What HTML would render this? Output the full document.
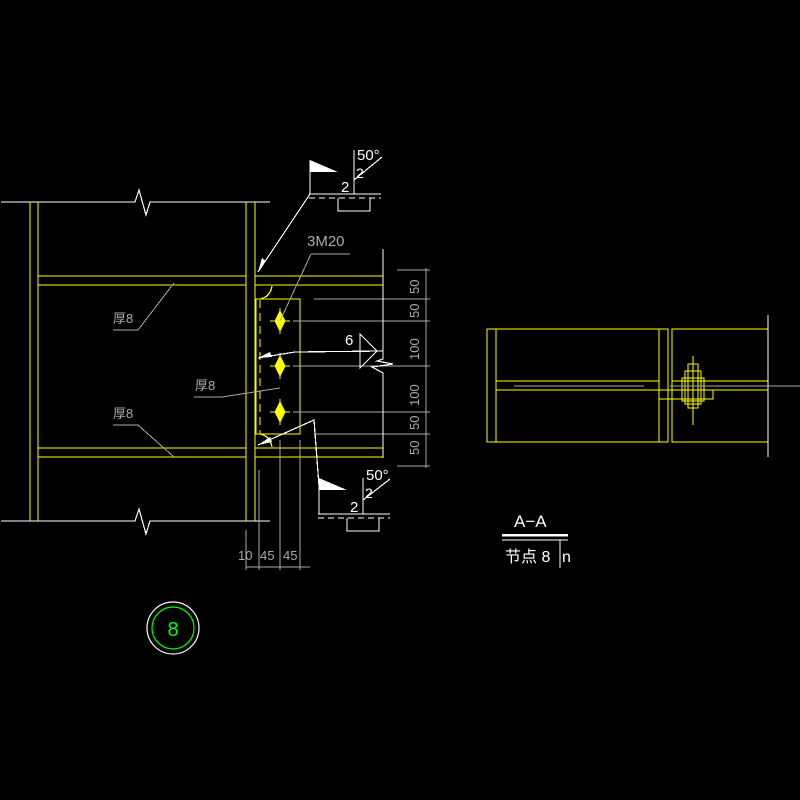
<!DOCTYPE html>
<html><head><style>body{margin:0;background:#000}svg{display:block}text{font-family:"Liberation Sans","Noto Sans CJK SC",sans-serif}</style></head>
<body>
<svg width="800" height="800" viewBox="0 0 800 800" xmlns="http://www.w3.org/2000/svg" shape-rendering="crispEdges">
<rect width="800" height="800" fill="#000"/>
<g stroke="#fff" stroke-width="1.2" fill="none">
<polyline points="1,202 135,202 139,190 146,215 150,202 270,202"/>
<polyline points="1,521 135,521 139,509 146,534 150,521 270,521"/>
</g>
<g stroke="#ff0" stroke-width="1.3" fill="none">
<line x1="30" y1="202" x2="30" y2="521"/><line x1="38" y1="202" x2="38" y2="521"/>
<line x1="246" y1="202" x2="246" y2="521"/><line x1="255" y1="202" x2="255" y2="521"/>
<line x1="38" y1="276" x2="246" y2="276"/><line x1="38" y1="285" x2="246" y2="285"/>
<line x1="38" y1="448" x2="246" y2="448"/><line x1="38" y1="457" x2="246" y2="457"/>
<line x1="255" y1="276" x2="383" y2="276"/><line x1="255" y1="285" x2="383" y2="285"/>
<line x1="255" y1="448" x2="383" y2="448"/><line x1="255" y1="457" x2="383" y2="457"/>
<rect x="256" y="299" width="44" height="135"/>
<line x1="260" y1="300" x2="260" y2="434" stroke-dasharray="8,5"/>
<path d="M272,286 Q270,297 260,299"/>
<path d="M272,447 Q270,436 260,434"/>
</g>
<g fill="#ff0" stroke="#ff0">
<path d="M280,311 L285,321 L280,331 L275,321Z"/><line x1="270" y1="321" x2="290" y2="321"/><line x1="280" y1="308" x2="280" y2="334"/>
<path d="M280,356 L285,366 L280,376 L275,366Z"/><line x1="270" y1="366" x2="290" y2="366"/><line x1="280" y1="353" x2="280" y2="379"/>
<path d="M280,402 L285,412 L280,422 L275,412Z"/><line x1="270" y1="412" x2="290" y2="412"/><line x1="280" y1="399" x2="280" y2="425"/>
</g>
<g stroke="#aaa" stroke-width="1" fill="none">
<line x1="314" y1="299" x2="430" y2="299"/>
<line x1="293" y1="321" x2="430" y2="321"/>
<line x1="293" y1="366" x2="430" y2="366"/>
<line x1="293" y1="412" x2="430" y2="412"/>
<line x1="314" y1="434" x2="430" y2="434"/>
<line x1="397" y1="270" x2="430" y2="270"/>
<line x1="397" y1="466" x2="430" y2="466"/>
<line x1="426" y1="268" x2="426" y2="468"/>
<polyline points="311,254 350,254"/><line x1="311" y1="254" x2="280" y2="321"/>
<polyline points="113,330 138,330 174,283"/>
<polyline points="113,425 138,425 174,457"/>
<polyline points="194,397 222,397 280,388"/>
<line x1="259" y1="470" x2="259" y2="570"/><line x1="280" y1="440" x2="280" y2="570"/><line x1="300" y1="440" x2="300" y2="570"/><line x1="246" y1="530" x2="246" y2="570"/>
<line x1="246" y1="567" x2="310" y2="567"/>
</g>
<g fill="#aaa" font-size="13">
<text x="307" y="246" font-size="15">3M20</text>
<text x="113" y="323">厚8</text><text x="195" y="390">厚8</text><text x="113" y="418">厚8</text>
<text x="238" y="560">10</text><text x="260" y="560">45</text><text x="283" y="560">45</text>
<g font-size="13">
<text transform="translate(419,294) rotate(-90)">50</text>
<text transform="translate(419,318) rotate(-90)">50</text>
<text transform="translate(419,360) rotate(-90)">100</text>
<text transform="translate(419,406) rotate(-90)">100</text>
<text transform="translate(419,430) rotate(-90)">50</text>
<text transform="translate(419,455) rotate(-90)">50</text>
</g>
</g>
<g stroke="#fff" stroke-width="1.2" fill="none">
<polyline points="383,249 383,359 377,361 393,364 372,367 383,373 383,458"/>
<line x1="309" y1="194" x2="381" y2="194"/><line x1="309" y1="198" x2="381" y2="198" stroke-dasharray="6,4"/>
<polyline points="338,198 338,211 370,211 370,198"/>
<line x1="354" y1="150" x2="354" y2="194"/><line x1="354" y1="180" x2="382" y2="157"/>
<line x1="310" y1="194" x2="258" y2="272"/>
<line x1="310" y1="160" x2="310" y2="194"/>
<line x1="318" y1="514" x2="390" y2="514"/><line x1="318" y1="518" x2="390" y2="518" stroke-dasharray="6,4"/>
<polyline points="347,518 347,531 379,531 379,518"/>
<line x1="363" y1="478" x2="363" y2="514"/><line x1="363" y1="500" x2="390" y2="479"/>
<polyline points="319,514 319,486 314,420 258,445"/>
<polyline points="258,358 295,352 383,351"/>
<path d="M360,334 L377,351 L360,368Z"/>
<rect x="487" y="329" width="181" height="113" stroke="#ff0"/>
<line x1="496" y1="329" x2="496" y2="442" stroke="#ff0"/><line x1="659" y1="329" x2="659" y2="442" stroke="#ff0"/>
<line x1="496" y1="381" x2="659" y2="381" stroke="#ff0"/><line x1="496" y1="390" x2="659" y2="390" stroke="#ff0"/>
<rect x="672" y="329" width="96" height="113" stroke="#ff0"/>
<line x1="672" y1="381" x2="768" y2="381" stroke="#ff0"/><line x1="659" y1="390" x2="768" y2="390" stroke="#ff0"/>
<rect x="659" y="390" width="54" height="9" stroke="#ff0"/>
<rect x="682" y="378" width="22" height="23" stroke="#ff0"/>
<rect x="685" y="371" width="16" height="33" stroke="#ff0"/>
<rect x="688" y="364" width="10" height="44" stroke="#ff0"/>
<line x1="693" y1="356" x2="693" y2="425" stroke="#ff0"/>
<line x1="768" y1="315" x2="768" y2="457"/>
<line x1="514" y1="386" x2="644" y2="386" stroke="#aaa"/><line x1="670" y1="386" x2="800" y2="386" stroke="#aaa"/>
<line x1="502" y1="535" x2="568" y2="535" stroke-width="2.5"/><line x1="502" y1="540" x2="568" y2="540"/>
<line x1="560" y1="540" x2="560" y2="568"/>
<circle cx="173" cy="628" r="26" shape-rendering="auto"/>
<circle cx="173" cy="628" r="21" stroke="#0f0" shape-rendering="auto"/>
</g>
<g fill="#fff">
<path d="M310,160 L338,172 L310,172Z"/>
<path d="M319,478 L347,490 L319,490Z"/>
<path d="M258,272 L262,258 L266,261Z"/>
<path d="M258,358 L270,352 L272,357Z"/>
<path d="M258,445 L270,437 L272,442Z"/>
<text x="357" y="160" font-size="15">50°</text>
<text x="356" y="178" font-size="14">2</text>
<text x="341" y="192" font-size="15">2</text>
<text x="366" y="480" font-size="15">50°</text>
<text x="365" y="498" font-size="14">2</text>
<text x="350" y="512" font-size="15">2</text>
<text x="345" y="345" font-size="15">6</text>
<text x="514" y="527" font-size="17">A−A</text>
<text x="505" y="562" font-size="16">节点 8</text><text x="562" y="562" font-size="16">n</text>
</g>
<text x="173" y="636" fill="#0f0" font-size="20" text-anchor="middle" font-family="Liberation Sans,sans-serif">8</text>
</svg>
</body></html>
